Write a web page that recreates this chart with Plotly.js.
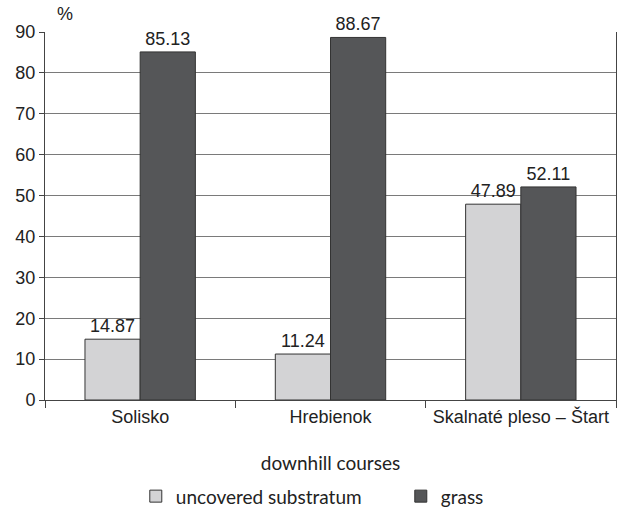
<!DOCTYPE html>
<html><head><meta charset="utf-8">
<script src="https://cdn.plot.ly/plotly-3.0.1.min.js"></script>
<style>body{margin:0;background:#fff}#c{width:617px;height:508px}</style>
</head><body><div id="c"></div>
<script>
const categories = ["Solisko", "Hrebienok", "Skalnaté pleso – Štart"];
const uncovered = [14.87, 11.24, 47.89];
const grass = [85.13, 88.67, 52.11];
const seriesNames = ["uncovered substratum", "grass"];
const yTicks = [0,10,20,30,40,50,60,70,80,90];

const fmt = v => v.toFixed(2);
const traces = [
  {type:'bar', x:categories, y:uncovered, name:seriesNames[0], text:uncovered.map(fmt),
   textposition:'outside', cliponaxis:false,
   textfont:{family:'Liberation Sans, Arial', size:18, color:'#222'},
   marker:{color:'#d3d3d5', line:{color:'#333', width:1}}},
  {type:'bar', x:categories, y:grass, name:seriesNames[1], text:grass.map(fmt),
   textposition:'outside', cliponaxis:false,
   textfont:{family:'Liberation Sans, Arial', size:18, color:'#222'},
   marker:{color:'#555658', line:{color:'#333', width:1}}}
];
const layout = {
  width:617, height:508,
  margin:{l:45, r:1, t:32, b:108, autoexpand:false},
  paper_bgcolor:'#fff', plot_bgcolor:'#fff',
  barmode:'group', bargap:0.42, bargroupgap:0,
  font:{family:'Liberation Sans, Arial', color:'#222'},
  xaxis:{type:'category', tickson:'boundaries', ticks:'outside', ticklen:7, tickcolor:'#444',
    showline:true, linecolor:'#444', linewidth:1, showgrid:false, automargin:true,
    tickfont:{size:18, color:'#222'},
    title:{text:'downhill courses', font:{family:'Lato, Carlito, sans-serif', size:19, color:'#222'}, standoff:31}},
  yaxis:{range:[0,90], tickvals:yTicks, ticks:'outside', ticklen:5, tickcolor:'#444',
    showline:true, mirror:true, linecolor:'#444', linewidth:1, automargin:false,
    gridcolor:'#7a7a7a', gridwidth:1, zeroline:false,
    tickfont:{size:18, color:'#222'}},
  showlegend:true,
  legend:{orientation:'h', x:0.159, xanchor:'left', y:-0.21, yanchor:'top',
    font:{family:'Lato, Carlito, sans-serif', size:19, color:'#222'}, itemwidth:30, entrywidth:220, traceorder:'normal'},
  annotations:[{text:'%', xref:'paper', yref:'paper', x:0.018, y:1.0, yshift:6, xanchor:'left', yanchor:'bottom',
    showarrow:false, font:{size:18, color:'#222'}}]
};
Plotly.newPlot('c', traces, layout, {displayModeBar:false, staticPlot:true});
</script></body></html>
